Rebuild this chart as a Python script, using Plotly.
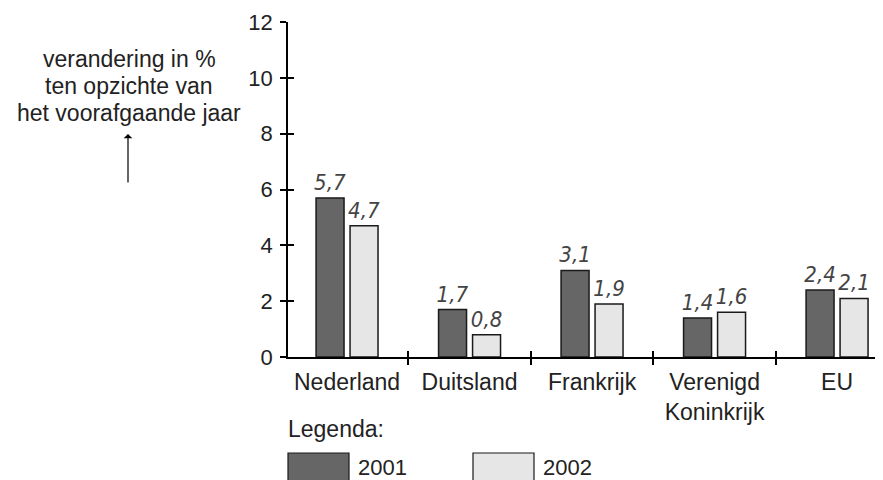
import plotly.graph_objects as go

# ---- data ----
categories = ["Nederland", "Duitsland", "Frankrijk", "Verenigd<br>Koninkrijk", "EU"]
years = ["2001", "2002"]
values_2001 = [5.7, 1.7, 3.1, 1.4, 2.4]
values_2002 = [4.7, 0.8, 1.9, 1.6, 2.1]
y_ticks = [0, 2, 4, 6, 8, 10, 12]
y_title_lines = ["verandering in %", "ten opzichte van", "het voorafgaande jaar"]
legend_title = "Legenda:"

# ---- style ----
colors = ["#666666", "#e6e6e6"]
outline = "#1a1a1a"
FONT = "Liberation Sans, Arial, sans-serif"
VFONT = "Liberation Sans Narrow, DejaVu Sans Condensed, Liberation Sans, sans-serif"
TXT = "#222222"

xs = list(range(len(categories)))
bounds = [i + 0.5 for i in xs[:-1]]

fig = go.Figure()
for name, vals, col in zip(years, [values_2001, values_2002], colors):
    fig.add_trace(go.Bar(
        x=xs, y=vals, name=name,
        marker=dict(color=col, line=dict(color=outline, width=1.5)),
        texttemplate="%{y:.1f}", textposition="outside",
        textfont=dict(family=VFONT, size=22, color="#444444", style="italic"),
        constraintext="none", cliponaxis=False, showlegend=False,
    ))

# dummy traces to activate overlay axes (for crossing tick marks)
fig.add_trace(go.Scatter(x=bounds, y=[0] * len(bounds), xaxis="x2", yaxis="y",
                         mode="markers", marker=dict(opacity=0), hoverinfo="skip", showlegend=False))
fig.add_trace(go.Scatter(x=[0] * len(y_ticks), y=y_ticks, xaxis="x", yaxis="y2",
                         mode="markers", marker=dict(opacity=0), hoverinfo="skip", showlegend=False))

xrange = [-0.482, 4.375]
yrange = [0, 12]

# page has an 8px body margin: figure is 875x472 placed at (8, 8)
fig.update_layout(
    width=875, height=472,
    margin=dict(l=280, r=0, t=14, b=123),
    paper_bgcolor="white", plot_bgcolor="white",
    separators=",.",
    barmode="group", bargap=0.445, bargroupgap=0.177,
    font=dict(family=FONT, size=22, color=TXT),
    xaxis=dict(
        range=xrange, tickmode="array", tickvals=xs, ticktext=categories,
        ticks="", showline=True, linecolor="black", linewidth=1.5,
        showgrid=False, zeroline=False, tickfont=dict(size=23, color=TXT),
        ticklabelstandoff=4,
        minor=dict(tickmode="array", tickvals=bounds, ticks="outside",
                   ticklen=6, tickwidth=1.5, tickcolor="black"),
    ),
    xaxis2=dict(
        overlaying="x", anchor="y", range=xrange, tickmode="array", tickvals=bounds,
        ticks="inside", ticklen=6, tickwidth=1.5, tickcolor="black",
        showticklabels=False, showline=False, showgrid=False, zeroline=False,
    ),
    yaxis=dict(
        range=yrange, tickmode="array", tickvals=y_ticks,
        ticks="outside", ticklen=6, tickwidth=1.5, tickcolor="black",
        showline=True, linecolor="black", linewidth=1.5,
        showgrid=False, zeroline=False, tickfont=dict(size=22, color=TXT),
        ticklabelstandoff=3,
    ),
    yaxis2=dict(
        overlaying="y", anchor="x", side="left", range=yrange, tickmode="array",
        tickvals=y_ticks, ticks="inside", ticklen=6, tickwidth=1.5, tickcolor="black",
        showticklabels=False, showline=False, showgrid=False, zeroline=False,
    ),
)

# page pixel -> paper helpers (plot area in page pixels: left 288, top 22, 595x335)
L, W, T, H = 288, 595, 22, 335
def px(x):
    return (x - L) / W
def py(y):
    return (T + H - y) / H

# y-axis title (three lines) and arrow
for i, line in enumerate(y_title_lines):
    fig.add_annotation(text=line, xref="paper", yref="paper",
                       x=px(129), y=py(59 + 27 * i), xanchor="center", yanchor="middle",
                       showarrow=False, font=dict(size=23, color=TXT))
fig.add_annotation(text="", xref="paper", yref="paper", x=px(128), y=py(134),
                   ax=0, ay=50, showarrow=True, arrowhead=1, arrowsize=1.2,
                   arrowwidth=1.2, arrowcolor="black")

# manual legend
fig.add_annotation(text=legend_title, xref="paper", yref="paper", x=px(286), y=py(429),
                   xanchor="left", yanchor="middle", showarrow=False,
                   font=dict(size=23, color=TXT))
box_left = [288, 473]
for name, col, bx in zip(years, colors, box_left):
    fig.add_shape(type="rect", xref="paper", yref="paper",
                  x0=px(bx), x1=px(bx + 61), y0=py(453), y1=py(484),
                  fillcolor=col, line=dict(color=outline, width=1.2))
    fig.add_annotation(text=name, xref="paper", yref="paper", x=px(bx + 68), y=py(467),
                       xanchor="left", yanchor="middle", showarrow=False,
                       font=dict(size=22, color=TXT))

fig.write_html("out.html")
